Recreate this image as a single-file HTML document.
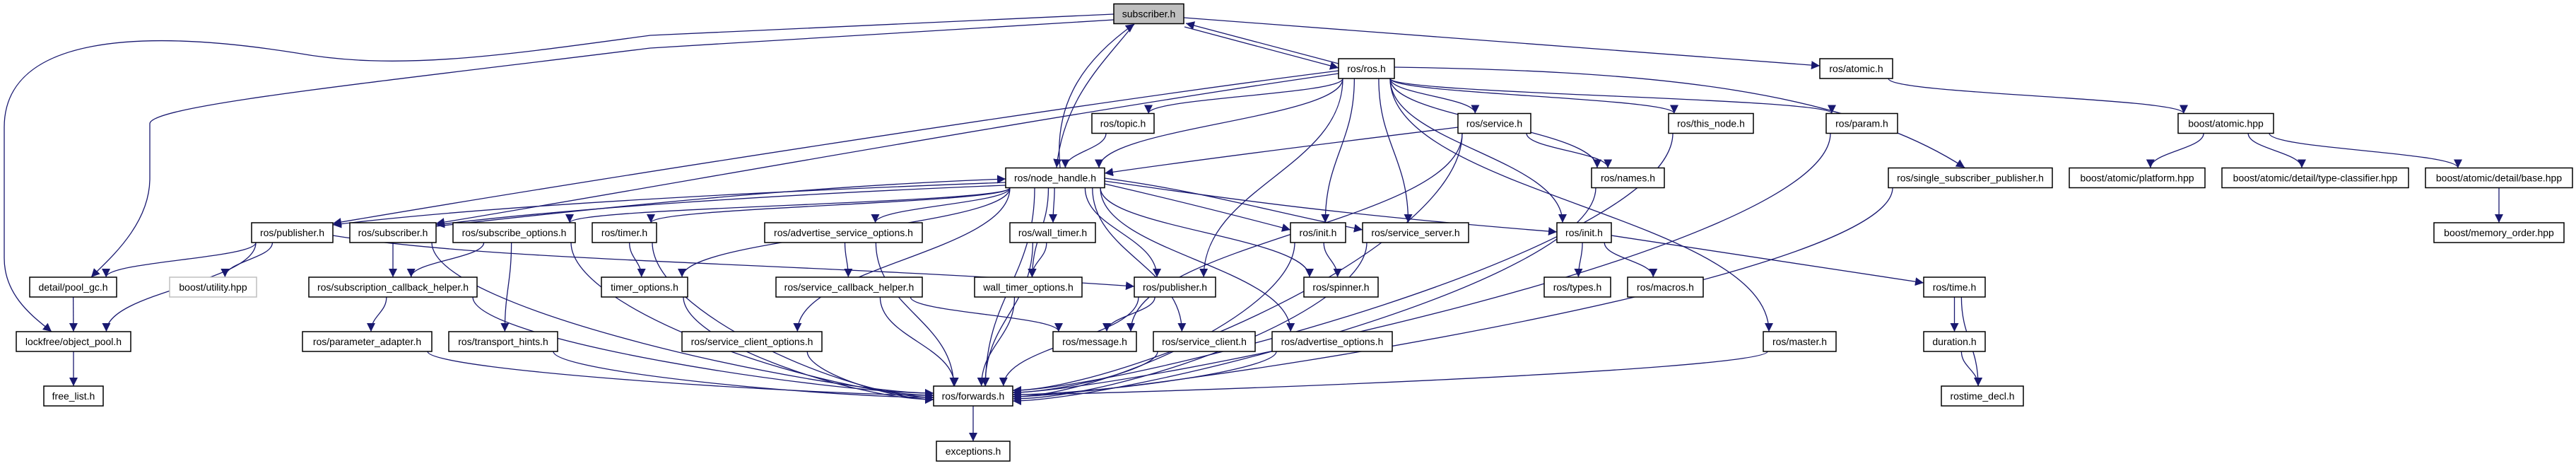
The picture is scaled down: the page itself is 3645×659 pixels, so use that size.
<!DOCTYPE html>
<html><head><meta charset="utf-8"><style>
html,body{margin:0;padding:0;background:#fff;width:3645px;height:659px;overflow:hidden}
svg{display:block}
text{font-family:"Liberation Sans",sans-serif;font-size:14px;fill:#000}
rect{fill:#fff;stroke:#000;stroke-width:1.5}
</style></head><body>
<svg id="g" width="3645" height="659" viewBox="0 0 3645 659" xmlns="http://www.w3.org/2000/svg">
<defs><marker id="ar" markerUnits="userSpaceOnUse" markerWidth="14" markerHeight="12" refX="12" refY="6" orient="auto"><path d="M0,0 L12,6 L0,12 z" fill="#191970"/></marker></defs>
<g id="edges" fill="none" stroke="#191970" stroke-width="1.3"></g>
<g id="nodes">
<rect x="1576" y="5.5" width="99" height="28" style="fill:#bfbfbf"/><text x="1625.5" y="24.5" text-anchor="middle">subscriber.h</text>
<rect x="1894" y="83" width="79" height="28"/><text x="1933.5" y="102" text-anchor="middle">ros/ros.h</text>
<rect x="2575" y="83" width="103" height="28"/><text x="2626.5" y="102" text-anchor="middle">ros/atomic.h</text>
<rect x="1545" y="160.5" width="88" height="28"/><text x="1589" y="179.5" text-anchor="middle">ros/topic.h</text>
<rect x="2063" y="160.5" width="103" height="28"/><text x="2114.5" y="179.5" text-anchor="middle">ros/service.h</text>
<rect x="2361" y="160.5" width="120" height="28"/><text x="2421" y="179.5" text-anchor="middle">ros/this_node.h</text>
<rect x="2584" y="160.5" width="101" height="28"/><text x="2634.5" y="179.5" text-anchor="middle">ros/param.h</text>
<rect x="3082" y="160.5" width="135" height="28"/><text x="3149.5" y="179.5" text-anchor="middle">boost/atomic.hpp</text>
<rect x="1423" y="237.5" width="140" height="28"/><text x="1493" y="256.5" text-anchor="middle">ros/node_handle.h</text>
<rect x="2252" y="237.5" width="103" height="28"/><text x="2303.5" y="256.5" text-anchor="middle">ros/names.h</text>
<rect x="2672" y="237.5" width="232" height="28"/><text x="2788" y="256.5" text-anchor="middle">ros/single_subscriber_publisher.h</text>
<rect x="2928" y="237.5" width="192" height="28"/><text x="3024" y="256.5" text-anchor="middle">boost/atomic/platform.hpp</text>
<rect x="3144" y="237.5" width="264" height="28"/><text x="3276" y="256.5" text-anchor="middle">boost/atomic/detail/type-classifier.hpp</text>
<rect x="3432" y="237.5" width="208" height="28"/><text x="3536" y="256.5" text-anchor="middle">boost/atomic/detail/base.hpp</text>
<rect x="356" y="315" width="115" height="28"/><text x="413.5" y="334" text-anchor="middle">ros/publisher.h</text>
<rect x="495" y="315" width="122" height="28"/><text x="556" y="334" text-anchor="middle">ros/subscriber.h</text>
<rect x="641" y="315" width="173" height="28"/><text x="727.5" y="334" text-anchor="middle">ros/subscribe_options.h</text>
<rect x="838" y="315" width="91" height="28"/><text x="883.5" y="334" text-anchor="middle">ros/timer.h</text>
<rect x="1082" y="315" width="223" height="28"/><text x="1193.5" y="334" text-anchor="middle">ros/advertise_service_options.h</text>
<rect x="1429" y="315" width="121" height="28"/><text x="1489.5" y="334" text-anchor="middle">ros/wall_timer.h</text>
<rect x="1826" y="315" width="78" height="28"/><text x="1865" y="334" text-anchor="middle">ros/init.h</text>
<rect x="1928" y="315" width="150" height="28"/><text x="2003" y="334" text-anchor="middle">ros/service_server.h</text>
<rect x="2203" y="315" width="77" height="28"/><text x="2241.5" y="334" text-anchor="middle">ros/init.h</text>
<rect x="3444" y="315" width="184" height="28"/><text x="3536" y="334" text-anchor="middle">boost/memory_order.hpp</text>
<rect x="42" y="392" width="123" height="28"/><text x="103.5" y="411" text-anchor="middle">detail/pool_gc.h</text>
<rect x="240" y="392" width="123" height="28" style="stroke:#bfbfbf"/><text x="301.5" y="411" text-anchor="middle">boost/utility.hpp</text>
<rect x="437" y="392" width="238" height="28"/><text x="556" y="411" text-anchor="middle">ros/subscription_callback_helper.h</text>
<rect x="851" y="392" width="122" height="28"/><text x="912" y="411" text-anchor="middle">timer_options.h</text>
<rect x="1098" y="392" width="207" height="28"/><text x="1201.5" y="411" text-anchor="middle">ros/service_callback_helper.h</text>
<rect x="1379" y="392" width="152" height="28"/><text x="1455" y="411" text-anchor="middle">wall_timer_options.h</text>
<rect x="1605" y="392" width="115" height="28"/><text x="1662.5" y="411" text-anchor="middle">ros/publisher.h</text>
<rect x="1845" y="392" width="105" height="28"/><text x="1897.5" y="411" text-anchor="middle">ros/spinner.h</text>
<rect x="2185" y="392" width="94" height="28"/><text x="2232" y="411" text-anchor="middle">ros/types.h</text>
<rect x="2303" y="392" width="107" height="28"/><text x="2356.5" y="411" text-anchor="middle">ros/macros.h</text>
<rect x="2722" y="392" width="87" height="28"/><text x="2765.5" y="411" text-anchor="middle">ros/time.h</text>
<rect x="23" y="469" width="162" height="28"/><text x="104" y="488" text-anchor="middle">lockfree/object_pool.h</text>
<rect x="428" y="469" width="183" height="28"/><text x="519.5" y="488" text-anchor="middle">ros/parameter_adapter.h</text>
<rect x="635" y="469" width="154" height="28"/><text x="712" y="488" text-anchor="middle">ros/transport_hints.h</text>
<rect x="965" y="469" width="198" height="28"/><text x="1064" y="488" text-anchor="middle">ros/service_client_options.h</text>
<rect x="1490" y="469" width="118" height="28"/><text x="1549" y="488" text-anchor="middle">ros/message.h</text>
<rect x="1632" y="469" width="144" height="28"/><text x="1704" y="488" text-anchor="middle">ros/service_client.h</text>
<rect x="1800" y="469" width="170" height="28"/><text x="1885" y="488" text-anchor="middle">ros/advertise_options.h</text>
<rect x="2495" y="469" width="103" height="28"/><text x="2546.5" y="488" text-anchor="middle">ros/master.h</text>
<rect x="2722" y="469" width="87" height="28"/><text x="2765.5" y="488" text-anchor="middle">duration.h</text>
<rect x="62" y="546" width="84" height="28"/><text x="104" y="565" text-anchor="middle">free_list.h</text>
<rect x="1321" y="546" width="112" height="28"/><text x="1377" y="565" text-anchor="middle">ros/forwards.h</text>
<rect x="2747" y="546" width="116" height="28"/><text x="2805" y="565" text-anchor="middle">rostime_decl.h</text>
<rect x="1325" y="624" width="104" height="28"/><text x="1377" y="643" text-anchor="middle">exceptions.h</text>
</g>
</svg>
<script>
const T=[5.5,83,160.5,237.5,315,392,469,546,624];
const N={subscriber:[1576,1675,0],ros:[1894,1973,1],atomic:[2575,2678,1],topic:[1545,1633,2],service:[2063,2166,2],thisnode:[2361,2481,2],param:[2584,2685,2],batomic:[3082,3217,2],nh:[1423,1563,3],names:[2252,2355,3],ssp:[2672,2904,3],platform:[2928,3120,3],typecl:[3144,3408,3],base:[3432,3640,3],pub4:[356,471,4],sub4:[495,617,4],subopt:[641,814,4],timer:[838,929,4],aso:[1082,1305,4],wtimer:[1429,1550,4],init1:[1826,1904,4],sserver:[1928,2078,4],init2:[2203,2280,4],memorder:[3444,3628,4],poolgc:[42,165,5],butil:[240,363,5],sch:[437,675,5],timeropt:[851,973,5],sch2:[1098,1305,5],wto:[1379,1531,5],pub5:[1605,1720,5],spinner:[1845,1950,5],types:[2185,2279,5],macros:[2303,2410,5],time:[2722,2809,5],objpool:[23,185,6],padapter:[428,611,6],thints:[635,789,6],sco:[965,1163,6],message:[1490,1608,6],sclient:[1632,1776,6],aopt:[1800,1970,6],master:[2495,2598,6],duration:[2722,2809,6],freelist:[62,146,7],forwards:[1321,1433,7],rostime:[2747,2863,7],exceptions:[1325,1429,8]};
function B(id){const [x1,x2,r]=N[id];const y1=T[r];return{x1,x2,y1,y2:y1+28,cx:(x1+x2)/2,cy:y1+14};}
const cl=(v,a,b)=>Math.max(a,Math.min(b,v));
let out='';
function P(d){out+='<path d="'+d+'" marker-end="url(#ar)"/>';}
let fl=0,fr=0;
function E(a,b,o){o=o||{};const A=B(a),C=B(b);let s,e,c1,c2;const dx=C.cx-A.cx;
 if(C.y1>A.y1){
  if(o.s==='r')s=[A.x2,A.cy+(o.sy||6)];else if(o.s==='l')s=[A.x1,A.cy+(o.sy||6)];
  else s=[cl(A.cx+dx*0.25,A.x1+6,A.x2-6),A.y2];
  let t=o.t;
  if(!t&&b==='forwards'&&Math.abs(dx)>300)t=dx>0?'l':'r';
  if(t==='l'){e=[C.x1,C.cy+(dx>0?(-4+(fl++%4)*3):0)];}
  else if(t==='r'){e=[C.x2,C.y1+6+(fr++%6)*3];}
  else e=[cl(C.cx-dx*0.15,C.x1+8,C.x2-8),C.y1];
  const k=(e[1]-s[1])*0.45;
  c1=(o.s?[s[0]+(e[0]-s[0])*0.3,s[1]]:[s[0],s[1]+k]);
  c2=(t==='l'||t==='r')?[e[0]+(t==='l'?-1:1)*Math.min(150,Math.abs(e[0]-s[0])*0.3),e[1]]:[e[0],e[1]-k];
 }else{
  s=[cl(A.cx+dx*0.25,A.x1+6,A.x2-6),A.y1];e=[cl(C.cx-dx*0.15,C.x1+8,C.x2-8),C.y2];
  const k=(s[1]-e[1])*0.45;c1=[s[0],s[1]-k];c2=[e[0],e[1]+k];
 }
 P('M'+s+' C'+c1+' '+c2+' '+e);}
// specials
P('M1576,20 L920,50 C700,80 560,100 420,75 C200,40 6,50 6,180 L6,365 C6,420 50,450 73,469');
P('M1576,28 L920,68 C500,120 212,150 212,175 L212,252 C212,320 150,370 129,392');
P('M1675,25 L2575,93');
P('M1894,90 L1678,33');
P('M1676,38 L1894,96');
P('M1500,237 C1490,140 1540,80 1605,34');
P('M1605,34 C1560,90 1505,140 1495,237');
P('M471,333 C700,370 1100,370 1605,405');
P('M1423,258 C1100,270 700,290 471,318');
P('M1423,262 C1100,275 800,295 617,318');
P('M617,320 C800,300 1100,265 1423,253');
P('M1894,100 C1500,150 800,260 471,316');
P('M1894,104 C1500,160 900,270 617,316');
P('M2063,180 C1900,200 1700,225 1563,245');
P('M2280,333 L2722,400');
P('M1563,256 C1700,275 1850,300 2203,328');
P('M1563,252 C1700,270 1800,300 1928,325');
P('M1563,260 C1650,280 1750,305 1826,325');
P('M1973,95 C2300,100 2600,120 2780,237');
// generic
[['ros','nh'],['ros','topic'],['ros','service'],['ros','thisnode'],['ros','param'],['ros','names'],['ros','init1'],['ros','sserver'],['ros','init2'],['ros','master'],['ros','pub5'],
['topic','nh'],['service','names'],['service','message'],['service','forwards'],
['nh','subopt'],['nh','timer'],['nh','timeropt'],['nh','sco'],['nh','aso'],['nh','wtimer'],['nh','wto'],['nh','forwards'],['nh','pub5'],['nh','sclient'],['nh','aopt'],['nh','spinner'],
['pub4','poolgc'],['pub4','butil'],['pub4','objpool'],['sub4','sch'],['sub4','forwards'],['subopt','sch'],['subopt','thints'],['subopt','forwards'],['timer','timeropt'],['timer','forwards'],['timeropt','forwards'],
['sch','padapter'],['sch','forwards'],['padapter','forwards'],['thints','forwards'],['poolgc','objpool'],['objpool','freelist'],
['aso','sch2'],['aso','forwards'],['sch2','message'],['sch2','forwards'],['wtimer','wto'],['wtimer','forwards'],['wto','forwards'],['pub5','message'],['pub5','forwards'],
['sco','forwards'],['sclient','forwards'],['aopt','forwards'],['init1','spinner'],['init1','forwards'],['sserver','forwards'],['init2','types'],['init2','macros'],
['names','forwards'],['thisnode','forwards'],['param','forwards'],['master','forwards'],['ssp','forwards'],
['atomic','batomic'],['batomic','platform'],['batomic','typecl'],['batomic','base'],['base','memorder'],['time','duration'],['time','rostime'],['duration','rostime'],['forwards','exceptions']
].forEach(p=>E(p[0],p[1]));
document.getElementById('edges').innerHTML=out;
</script>
</body></html>
